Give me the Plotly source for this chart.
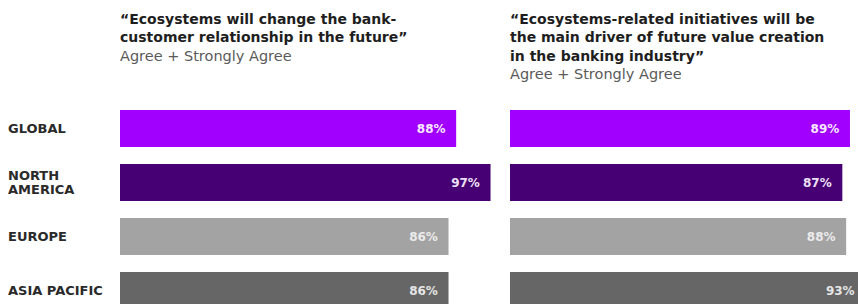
import plotly.graph_objects as go

regions = ["GLOBAL", "NORTH<br>AMERICA", "EUROPE", "ASIA PACIFIC"]
change_relationship = [88, 97, 86, 86]
value_driver = [89, 87, 88, 93]
bar_colors = ["#A100FF", "#460073", "#A3A3A3", "#666666"]
text_colors = ["#F6E8FF", "#EDE0F5", "#EBEBEB", "#E6E6E6"]
title_left = ["“Ecosystems will change the bank-", "customer relationship in the future”"]
title_right = ["“Ecosystems-related initiatives will be", "the main driver of future value creation",
               "in the banking industry”"]
subtitle = "Agree + Strongly Agree"

W, H = 858, 304
FONT = "DejaVu Sans"

fig = go.Figure()
for vals, xa, ya in [(change_relationship, "x", "y"), (value_driver, "x2", "y2")]:
    fig.add_trace(go.Bar(
        y=regions, x=vals, orientation="h", xaxis=xa, yaxis=ya,
        marker=dict(color=bar_colors, line=dict(width=0)),
        texttemplate="<b>%{x}%</b>\u00a0\u00a0",
        textposition="inside", insidetextanchor="end",
        textfont=dict(family=FONT, size=12, color=text_colors),
        cliponaxis=True, showlegend=False, hoverinfo="skip",
    ))

px_per = 3.82
lx0, rx0 = 120, 510
ydom = [0, 1 - 101.5 / H]
fig.update_layout(
    width=W, height=H, margin=dict(l=0, r=0, t=0, b=0),
    paper_bgcolor="white", plot_bgcolor="white", bargap=0.315,
    xaxis=dict(domain=[lx0 / W, (lx0 + 100 * px_per) / W], range=[0, 100], visible=False),
    xaxis2=dict(domain=[rx0 / W, 1], range=[0, (W - rx0) / px_per], visible=False),
    yaxis=dict(domain=ydom, range=[3.25, -0.5], visible=False, categoryorder="array", categoryarray=regions),
    yaxis2=dict(domain=ydom, range=[3.25, -0.5], visible=False, categoryorder="array", categoryarray=regions,
                anchor="x2"),
    font=dict(family=FONT),
)

anns = []
line_h = 18.5
def add_lines(x_px, lines, sub):
    for i, t in enumerate(lines):
        anns.append(dict(text="<b>%s</b>" % t, x=(x_px - 2) / W, y=1 - (19 + i * line_h) / H,
                         xref="paper", yref="paper", xanchor="left", yanchor="middle", showarrow=False,
                         font=dict(family=FONT, size=14, color="#1e1e1e")))
    anns.append(dict(text=sub, x=(x_px - 2) / W, y=1 - (19 + len(lines) * line_h) / H,
                     xref="paper", yref="paper", xanchor="left", yanchor="middle", showarrow=False,
                     font=dict(family=FONT, size=14.5, color="#5a5a5a")))
add_lines(lx0, title_left, subtitle)
add_lines(rx0, title_right, subtitle)

lab_h = 14
for r in regions:
    parts = r.split("<br>")
    n = len(parts)
    for i, p in enumerate(parts):
        anns.append(dict(text="<b>%s</b>" % p, x=6 / W, y=r, xref="paper", yref="y", xanchor="left",
                         yanchor="middle", align="left", showarrow=False,
                         yshift=((n - 1) / 2 - i) * lab_h,
                         font=dict(family=FONT, size=13, color="#2a2a2a")))
fig.update_layout(annotations=anns)
fig.write_html("out.html", config={"displayModeBar": False},
               post_script="document.body.style.margin='0';")
